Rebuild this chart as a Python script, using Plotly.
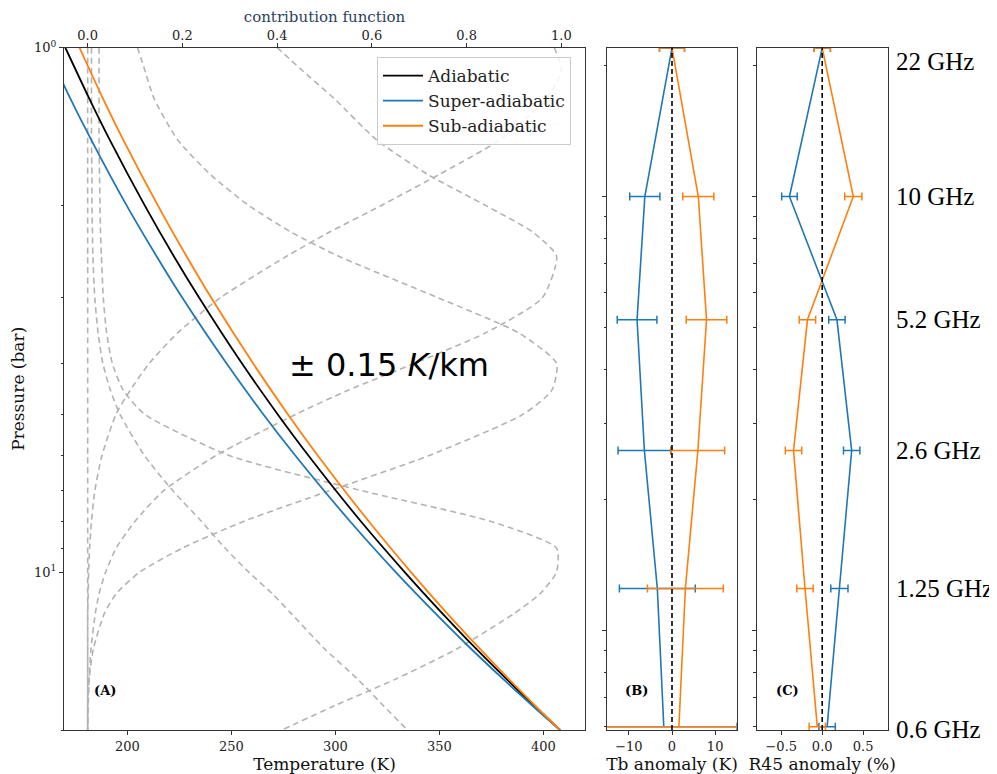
import numpy as np
import plotly.graph_objects as go

# page offset of the plot div (body margin) is compensated below
OFF = 8
W, H = 997 - OFF, 774 - OFF

def px(x):
    return (x - OFF) / W

def py(y):
    return 1 - (y - OFF) / H

# ---------------- Panel A data ----------------
# temperature profiles (pressure in bar, temperature in K)
p_profile = [1.0, 1.25, 1.5, 2.0, 2.5, 3.0, 4.0, 5.0, 6.0, 8.0, 10.0, 12.0, 14.0, 16.0, 18.0, 20.0]
t_adiabatic = [170.1, 181.6, 191.5, 208.3, 222.3, 234.5, 255.0, 272.2, 287.1, 312.2, 333.3, 351.5, 367.6, 382.3, 395.6, 408.0]
t_super = [161.0, 172.5, 182.6, 199.6, 214.0, 226.4, 247.6, 265.3, 280.8, 307.0, 329.0, 348.2, 365.2, 380.7, 394.9, 408.0]
t_sub = [176.9, 188.2, 198.0, 214.6, 228.4, 240.3, 260.4, 277.1, 291.6, 316.0, 336.3, 353.8, 369.4, 383.4, 396.2, 408.0]

# normalized contribution functions
p_cf = [1.0, 1.1, 1.25, 1.5, 1.75, 2.0, 2.25, 2.5, 3.0, 3.5, 4.0, 4.5, 5.0, 6.0, 7.0, 8.0, 9.0, 10.0, 11.0, 12.0, 14.0, 16.0, 18.0, 20.0]
cf_22 = [0.985, 1.0, 0.97, 0.87, 0.74, 0.62, 0.51, 0.42, 0.28, 0.19, 0.13, 0.09, 0.06, 0.03, 0.015, 0.008, 0.004, 0.002, 0.001, 0.0, 0.0, 0.0, 0.0, 0.0]
cf_10 = [0.40, 0.45, 0.52, 0.61, 0.72, 0.84, 0.94, 0.99, 0.96, 0.84, 0.69, 0.55, 0.44, 0.27, 0.16, 0.10, 0.06, 0.038, 0.024, 0.016, 0.007, 0.003, 0.001, 0.0]
cf_5p2 = [0.105, 0.12, 0.14, 0.19, 0.26, 0.34, 0.43, 0.53, 0.74, 0.91, 0.99, 0.98, 0.92, 0.72, 0.51, 0.33, 0.20, 0.11, 0.06, 0.035, 0.012, 0.003, 0.0, 0.0]
cf_2p6 = [0.024, 0.024, 0.024, 0.024, 0.025, 0.026, 0.027, 0.029, 0.033, 0.04, 0.052, 0.075, 0.12, 0.30, 0.58, 0.85, 0.99, 0.99, 0.955, 0.90, 0.78, 0.65, 0.52, 0.41]
cf_1p25 = [0.008, 0.008, 0.008, 0.008, 0.009, 0.009, 0.01, 0.011, 0.015, 0.022, 0.032, 0.048, 0.068, 0.12, 0.18, 0.24, 0.29, 0.34, 0.39, 0.43, 0.50, 0.57, 0.625, 0.675]
cf_0p6 = [0.0] * 24
cf_all = [cf_22, cf_10, cf_5p2, cf_2p6, cf_1p25, cf_0p6]

# ---------------- Panels B, C data ----------------
freqs = [22, 10, 5.2, 2.6, 1.25, 0.6]
freq_labels = ["22 GHz", "10 GHz", "5.2 GHz", "2.6 GHz", "1.25 GHz", "0.6 GHz"]
tb_super = [0.0, -6.3, -8.1, -6.4, -3.4, -1.9]
tb_super_err = [2.9, 3.5, 4.6, 6.1, 8.8, 16.9]
tb_sub = [0.0, 6.1, 8.0, 6.0, 3.1, 1.6]
tb_sub_err = [2.9, 3.6, 4.7, 6.2, 8.8, 20.0]
r45_super = [0.0, -0.40, 0.18, 0.36, 0.21, 0.06]
r45_super_err = [0.1, 0.095, 0.1, 0.1, 0.105, 0.1]
r45_sub = [0.0, 0.38, -0.18, -0.35, -0.21, -0.06]
r45_sub_err = [0.1, 0.105, 0.1, 0.1, 0.1, 0.1]

BLUE = "#1f77b4"
ORANGE = "#ff7f0e"
GRAY = "#b3b3b3"
FRAME = "#333333"
SERIF = "DejaVu Serif"
TSERIF = "Liberation Serif"

fig = go.Figure()

# contribution functions (base axis x / y)
for cf in cf_all:
    fig.add_trace(go.Scatter(x=cf, y=p_cf, xaxis="x", yaxis="y", mode="lines",
                             line=dict(color=GRAY, width=1.6, dash="6px,4px", shape="spline", smoothing=0.6),
                             showlegend=False, hoverinfo="skip"))

# temperature profiles (overlaying axis x2)
for name, t, c in [("Adiabatic", t_adiabatic, "black"),
                   ("Super-adiabatic", t_super, BLUE),
                   ("Sub-adiabatic", t_sub, ORANGE)]:
    fig.add_trace(go.Scatter(x=t, y=p_profile, xaxis="x2", yaxis="y", mode="lines", name=name,
                             line=dict(color=c, width=1.8, shape="spline", smoothing=0.8)))

# panel B
fig.add_trace(go.Scatter(x=tb_super, y=freqs, xaxis="x3", yaxis="y3", mode="lines",
                         line=dict(color=BLUE, width=1.6), showlegend=False,
                         error_x=dict(type="data", array=tb_super_err, color=BLUE, thickness=1.5, width=4)))
fig.add_trace(go.Scatter(x=tb_sub, y=freqs, xaxis="x3", yaxis="y3", mode="lines",
                         line=dict(color=ORANGE, width=1.6), showlegend=False,
                         error_x=dict(type="data", array=tb_sub_err, color=ORANGE, thickness=1.5, width=4)))
# panel C
fig.add_trace(go.Scatter(x=r45_super, y=freqs, xaxis="x4", yaxis="y4", mode="lines",
                         line=dict(color=BLUE, width=1.6), showlegend=False,
                         error_x=dict(type="data", array=r45_super_err, color=BLUE, thickness=1.5, width=4)))
fig.add_trace(go.Scatter(x=r45_sub, y=freqs, xaxis="x4", yaxis="y4", mode="lines",
                         line=dict(color=ORANGE, width=1.6), showlegend=False,
                         error_x=dict(type="data", array=r45_sub_err, color=ORANGE, thickness=1.5, width=4)))

# zero lines
for xr, yr in [("x3", "y3"), ("x4", "y4")]:
    fig.add_shape(type="line", xref=xr, yref=yr + " domain", x0=0, x1=0, y0=0, y1=1,
                  line=dict(color="black", width=1.6, dash="5px,3px"))

# domains
ydom = [py(730), py(47.5)]
domA = [px(64), px(585)]
domB = [px(607.3), px(736.7)]
domC = [px(756.7), px(887.7)]

tickfont = dict(family=SERIF, size=13, color="#222")
titlefont = dict(family=SERIF, size=17, color="#111")

common = dict(showline=True, linecolor=FRAME, linewidth=1, ticks="outside", ticklen=4,
              tickcolor=FRAME, showgrid=False, zeroline=False, tickfont=tickfont, automargin=False)

minor_p = [2, 3, 4, 5, 6, 7, 8, 9, 20]
minor_f = [0.6, 0.7, 0.8, 0.9, 2, 3, 4, 5, 6, 7, 8, 9, 20]

fig.update_layout(
    width=W, height=H, margin=dict(l=0, r=0, t=0, b=0, autoexpand=False),
    plot_bgcolor="white", paper_bgcolor="white",
    xaxis=dict(domain=domA, anchor="y", side="top", range=[-0.05, 1.05],
               tickvals=[0, 0.2, 0.4, 0.6, 0.8, 1.0], ticktext=["0.0", "0.2", "0.4", "0.6", "0.8", "1.0"],
               title=dict(text="contribution function", font=dict(family=SERIF, size=15), standoff=2),
               mirror=True, ticklabelstandoff=-3, **common),
    xaxis2=dict(overlaying="x", anchor="y", side="bottom", range=[169.5, 420],
                tickvals=[200, 250, 300, 350, 400],
                title=dict(text="Temperature (K)", font=titlefont, standoff=5), **common),
    yaxis=dict(domain=ydom, anchor="x", type="log", range=[np.log10(20), 0],
               tickvals=[1, 10], ticktext=["10<sup>0</sup>", "10<sup>1</sup>"],
               minor=dict(tickvals=minor_p, ticklen=2.5, ticks="outside", tickcolor=FRAME),
               title=dict(text="Pressure (bar)", font=titlefont, standoff=8),
               mirror=True, **common),
    xaxis3=dict(domain=domB, anchor="y3", range=[-15, 15], tickvals=[-10, 0, 10],
                ticktext=["\u221210", "0", "10"],
                title=dict(text="Tb anomaly (K)", font=titlefont, standoff=5), mirror=True, **common),
    yaxis3=dict(domain=ydom, anchor="x3", type="log", range=[np.log10(0.59), np.log10(22.05)],
                tickvals=[1, 10], showticklabels=False,
                minor=dict(tickvals=minor_f, ticklen=2.5, ticks="outside", tickcolor=FRAME),
                mirror=True, **common),
    xaxis4=dict(domain=domC, anchor="y4", range=[-0.8, 0.8], tickvals=[-0.5, 0, 0.5],
                ticktext=["\u22120.5", "0.0", "0.5"],
                title=dict(text="R45 anomaly (%)", font=titlefont, standoff=5), mirror=True, **common),
    yaxis4=dict(domain=ydom, anchor="x4", type="log", range=[np.log10(0.59), np.log10(22.05)],
                tickvals=[1, 10], showticklabels=False,
                minor=dict(tickvals=minor_f, ticklen=2.5, ticks="outside", tickcolor=FRAME),
                mirror=True, **common),
    legend=dict(x=px(377), y=py(57), xanchor="left", yanchor="top",
                bgcolor="rgba(255,255,255,0.85)", bordercolor="#cccccc", borderwidth=1,
                font=dict(family=SERIF, size=17, color="#222"), itemwidth=40),
)

ann = []
ann.append(dict(text="\u00b1 0.15 <i>K</i>/km", xref="paper", yref="paper", x=px(287), y=py(365),
                xanchor="left", yanchor="middle", showarrow=False,
                font=dict(family="DejaVu Sans", size=32, color="black")))
for lab, xx in [("(A)", 92), ("(B)", 623), ("(C)", 774)]:
    ann.append(dict(text="<b>%s</b>" % lab, xref="paper", yref="paper", x=px(xx), y=py(690),
                    xanchor="left", yanchor="middle", showarrow=False,
                    font=dict(family=SERIF, size=13, color="black")))
shifts = [-14, 0, 0, 0, 0, -3]
for f, lab, s in zip(freqs, freq_labels, shifts):
    ann.append(dict(text=lab, xref="paper", yref="y3", x=px(894), y=np.log10(f), yshift=s,
                    xanchor="left", yanchor="middle", showarrow=False,
                    font=dict(family=TSERIF, size=25, color="black")))
fig.update_layout(annotations=ann)

fig.write_html("out.html")
